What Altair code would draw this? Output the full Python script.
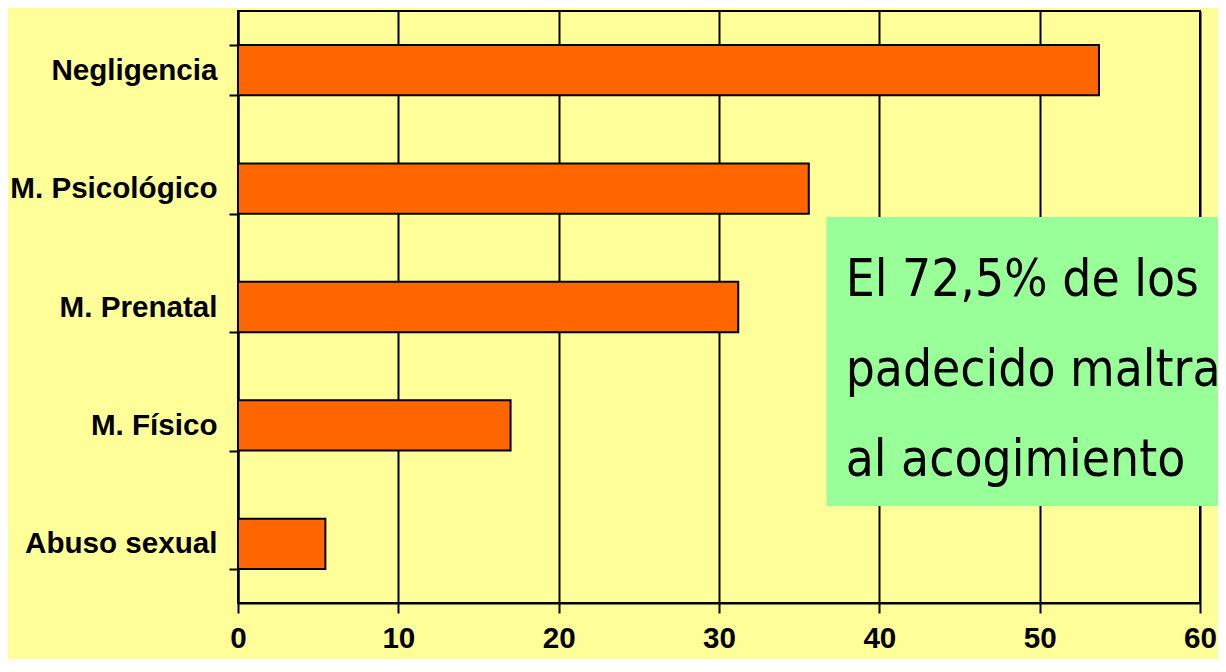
import altair as alt
import pandas as pd

categories = ["Negligencia", "M. Psicológico", "M. Prenatal", "M. Físico", "Abuso sexual"]
values = [53.7, 35.6, 31.2, 17.0, 5.45]
x_ticks = [0, 10, 20, 30, 40, 50, 60]
note_lines = ["El 72,5% de los", "padecido maltrato", "al acogimiento"]

df = pd.DataFrame({"cat": categories, "val": values})

LABEL_FONT = "Liberation Sans"

x_scale = alt.Scale(domain=[0, 60], nice=False, zero=True)

bars = alt.Chart(df).mark_bar(
    color="#FF6600", stroke="black", strokeWidth=2
).encode(
    x=alt.X("val:Q", scale=x_scale, axis=alt.Axis(
        values=x_ticks, title=None, grid=True, gridColor="black", gridWidth=2,
        gridOpacity=1, domainColor="black", domainWidth=2, tickColor="black",
        tickWidth=2, tickSize=10, labelFont=LABEL_FONT, labelFontWeight="bold",
        labelFontSize=29.6, labelColor="black", labelPadding=11,
        labelFlush=False, labelOverlap=False)),
    y=alt.Y("cat:N", sort=categories,
            scale=alt.Scale(paddingInner=0.575, paddingOuter=0.2875),
            axis=alt.Axis(title=None, grid=False, domainColor="black", domainWidth=2,
                          tickColor="black", tickWidth=2, tickSize=9, tickBand="extent",
                          labelFont=LABEL_FONT, labelFontWeight="bold", labelFontSize=29.6,
                          labelColor="black", labelPadding=12, labelLimit=400)),
)

note_df = pd.DataFrame({"x0": [36.7], "x1": [62.0], "txt": ["\n".join(note_lines)], "tx": [37.9]})

box = alt.Chart(note_df).mark_rect(color="#99FF99").encode(
    x=alt.X("x0:Q", scale=x_scale),
    x2="x1:Q",
    y=alt.value(206),
    y2=alt.value(495),
)

note = alt.Chart(note_df).mark_text(
    font="DejaVu Sans Condensed", fontSize=51, color="black", align="left",
    baseline="alphabetic", lineBreak="\n", lineHeight=90
).encode(
    x=alt.X("tx:Q", scale=x_scale),
    y=alt.value(285),
    text="txt:N",
)

chart = alt.layer(bars, box, note).properties(
    width=962, height=592, background="#FFFF99",
    autosize=alt.AutoSizeParams(type="none"),
    padding={"left": 230, "top": 3, "right": 18, "bottom": 56},
).configure_view(stroke="black", strokeWidth=2, fill="#FFFF99")

chart.save("out.html", embed_options={"renderer": "svg", "actions": False})
